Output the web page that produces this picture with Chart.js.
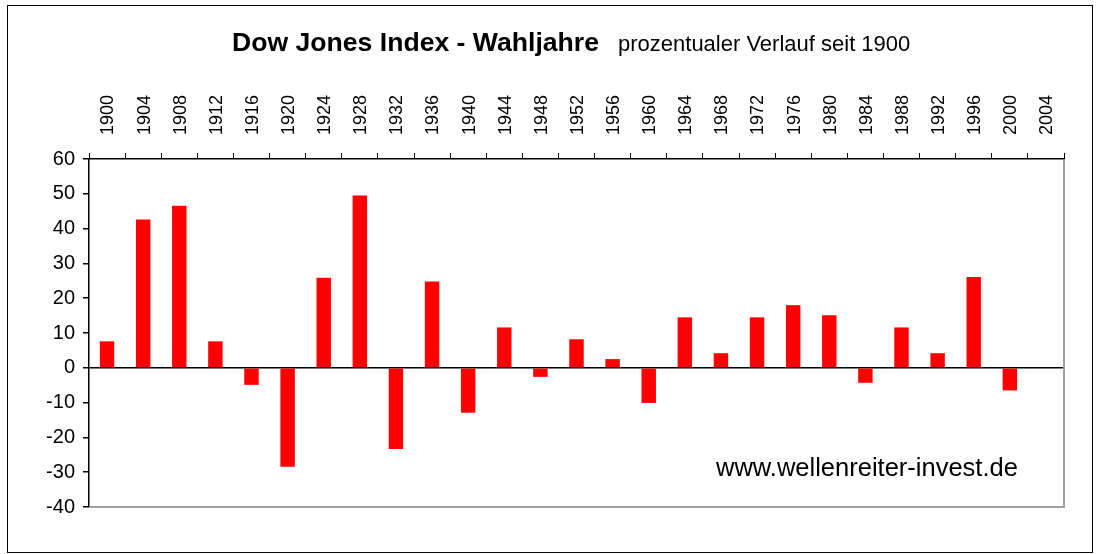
<!DOCTYPE html>
<html>
<head>
<meta charset="utf-8">
<script src="https://cdn.jsdelivr.net/npm/chart.js@4/dist/chart.umd.min.js"></script>
<style>
    html, body { margin: 0; padding: 0; background: #fff; }
    #wrap { width: 1096px; height: 554px; }
</style>
</head>
<body>
<div id="wrap"><canvas id="wahljahreChart"></canvas></div>
<script>
// Wahljahre (Kategorien)
const jahre = ['1900', '1904', '1908', '1912', '1916', '1920', '1924', '1928', '1932',
    '1936', '1940', '1944', '1948', '1952', '1956', '1960', '1964', '1968', '1972',
    '1976', '1980', '1984', '1988', '1992', '1996', '2000', '2004'];

// Veränderung des Dow Jones im Wahljahr (%)
const verlauf = [7.6, 42.6, 46.6, 7.6, -4.9, -28.4, 25.9, 49.5, -23.3,
    24.8, -12.9, 11.6, -2.6, 8.2, 2.5, -10.1, 14.5, 4.2, 14.5,
    18.0, 15.1, -4.3, 11.6, 4.2, 26.1, -6.5, null];

// Achsenbereich
const yMin = -40;
const yMax = 60;
const yStep = 10;

const titel = 'Dow Jones Index - Wahljahre';
const untertitel = 'prozentualer Verlauf seit 1900';
const quelle = 'www.wellenreiter-invest.de';

const schrift = '"Liberation Sans", Arial, sans-serif';

/**
 * Rahmen, Titel und Quellenangabe im Excel-Stil
 */
const rahmenPlugin = {
    id: 'rahmen',
    beforeDraw(chart) {
        const { ctx, width, height } = chart;
        ctx.save();
        ctx.fillStyle = '#fff';
        ctx.fillRect(0, 0, width, height);
        ctx.restore();
    },
    afterDraw(chart) {
        const { ctx, chartArea: a } = chart;
        ctx.save();
        // äußerer Rahmen
        ctx.strokeStyle = '#000';
        ctx.lineWidth = 1;
        ctx.strokeRect(7.5, 5.5, 1085, 547);

        // Zeichenfläche rechts/unten grau
        ctx.strokeStyle = '#a0a0a0';
        ctx.lineWidth = 2;
        ctx.beginPath();
        ctx.moveTo(a.left + 1, a.bottom);
        ctx.lineTo(a.right, a.bottom);
        ctx.lineTo(a.right, a.top + 1);
        ctx.stroke();

        // Titel
        ctx.fillStyle = '#000';
        ctx.textBaseline = 'alphabetic';
        ctx.textAlign = 'left';
        ctx.font = 'bold 26.6px ' + schrift;
        ctx.fillText(titel, 232, 51);
        ctx.font = '22px ' + schrift;
        ctx.fillText(untertitel, 618, 51);

        // Quelle
        ctx.font = '25.5px ' + schrift;
        ctx.fillText(quelle, 716, 476);
        ctx.restore();
    }
};

const ctx = document.getElementById('wahljahreChart');

new Chart(ctx, {
    type: 'bar',
    data: {
        labels: jahre,
        datasets: [{
            data: verlauf,
            backgroundColor: '#ff0000',
            borderWidth: 0,
            barPercentage: 0.4,
            categoryPercentage: 1.0
        }]
    },
    options: {
        responsive: true,
        maintainAspectRatio: false,
        animation: false,
        layout: {
            padding: { top: 0, left: 0, right: 32, bottom: 47 }
        },
        plugins: {
            legend: { display: false },
            tooltip: { enabled: false }
        },
        scales: {
            x: {
                position: 'top',
                offset: true,
                afterFit: (scale) => { scale.height = 159; },
                grid: {
                    drawOnChartArea: false,
                    offset: true,
                    color: '#000',
                    tickLength: 6
                },
                border: { color: '#000', width: 1.5 },
                ticks: {
                    autoSkip: false,
                    minRotation: 90,
                    maxRotation: 90,
                    padding: 18,
                    labelOffset: 23,
                    color: '#000',
                    font: { family: schrift, size: 18 }
                }
            },
            y: {
                min: yMin,
                max: yMax,
                afterFit: (scale) => { scale.width = 89; },
                grid: {
                    color: (c) => (c.tick && c.tick.value === 0 ? '#000' : 'rgba(0,0,0,0)'),
                    lineWidth: 1.5,
                    tickColor: '#000',
                    tickLength: 6
                },
                border: { color: '#000', width: 1.5 },
                ticks: {
                    stepSize: yStep,
                    padding: 8,
                    color: '#000',
                    font: { family: schrift, size: 20 }
                }
            }
        }
    },
    plugins: [rahmenPlugin]
});
</script>
</body>
</html>
